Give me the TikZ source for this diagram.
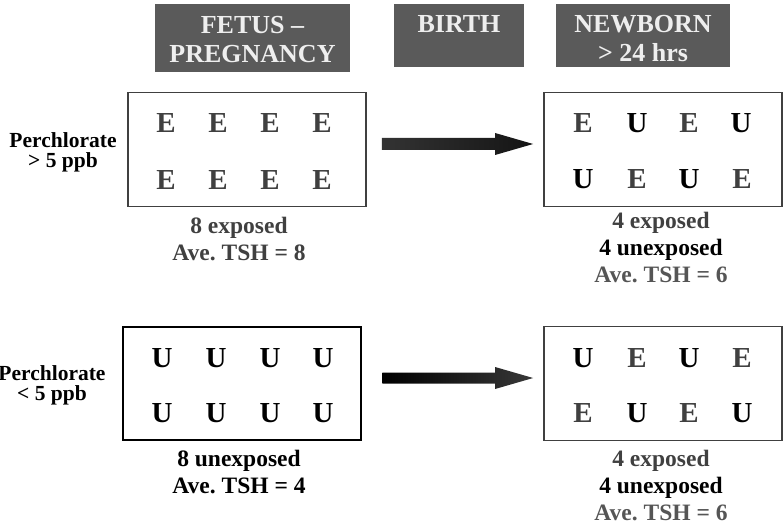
\documentclass[tikz,border=0pt]{standalone}
\usepackage{fontspec}
\setmainfont{Liberation Serif}
\usetikzlibrary{calc}
\frenchspacing
\definecolor{hdrgray}{HTML}{5A5A5A}
\definecolor{hdrtxt}{HTML}{EEEEEE}
\definecolor{egray}{HTML}{404040}
\definecolor{lgray}{HTML}{555555}
\begin{document}
\begin{tikzpicture}[x=1pt,y=-1pt,
  hdrbox/.style={fill=hdrgray, draw=none, inner sep=0pt},
  hdrtext/.style={text=hdrtxt, font=\fontsize{26}{30}\selectfont\bfseries, align=center, anchor=base, inner sep=0pt},
  grpbox/.style={draw=egray, line width=1.8pt, minimum width=238, minimum height=114, inner sep=0pt},
  grpboxb/.style={draw=black, line width=2.6pt, minimum width=238, minimum height=113, inner sep=0pt},
  letterE/.style={text=egray, font=\fontsize{29}{29}\selectfont\bfseries, anchor=base, inner sep=0pt},
  letterU/.style={text=black, font=\fontsize{29}{29}\selectfont\bfseries, anchor=base, inner sep=0pt},
  lbl/.style={font=\fontsize{23.5}{27}\selectfont\bfseries\frenchspacing, align=center, anchor=base, inner sep=0pt},
  conc/.style={font=\fontsize{21.5}{20}\selectfont\bfseries, align=center, anchor=base, inner sep=0pt}
]
\useasboundingbox (0,0) rectangle (783,529);

% header boxes
\node[hdrbox, minimum width=195, minimum height=68] (fetusbox) at (252.5,38) {};
\node[hdrbox, minimum width=130, minimum height=63] (birthbox) at (459,35.5) {};
\node[hdrbox, minimum width=174, minimum height=63] (newbornbox) at (643,35.5) {};
% anchor=base of a multi-line node is the baseline of its last line
\node[hdrtext] (fetustxt) at (252.5,63) {FETUS –\\[-0.5pt]PREGNANCY};
\node[hdrtext] (birthtxt) at (459,33) {BIRTH};
\node[hdrtext] (newborntxt) at (643,62) {NEWBORN\\[-1pt]> 24 hrs};

% group boxes
\node[grpbox] (b1) at (247,149.5) {};
\node[grpbox] (b2) at (663,149.5) {};
\node[grpboxb] (b3) at (242,383.5) {};
\node[grpbox] (b4) at (663,383.5) {};

% letters
\foreach \x in {166,218,270,322} {
  \node[letterE] at (\x,133) {E};
  \node[letterE] at (\x,190) {E};
}
\foreach \x in {162,216,270,323} {
  \node[letterU] at (\x,367) {U};
  \node[letterU] at (\x,422) {U};
}
\node[letterE] at (583,133) {E};
\node[letterU] at (637,133) {U};
\node[letterE] at (689,133) {E};
\node[letterU] at (741,133) {U};
\node[letterU] at (583,189) {U};
\node[letterE] at (637,189) {E};
\node[letterU] at (689,189) {U};
\node[letterE] at (742,189) {E};

\node[letterU] at (583,367) {U};
\node[letterE] at (637,367) {E};
\node[letterU] at (689,367) {U};
\node[letterE] at (742,367) {E};
\node[letterE] at (583,422) {E};
\node[letterU] at (637,422) {U};
\node[letterE] at (689,422) {E};
\node[letterU] at (742,422) {U};

% concentration labels
\node[conc] (c1) at (63,168) {Perchlorate\\> 5 ppb};
\node[conc] (c2) at (52,400) {Perchlorate\\< 5 ppb};

% group labels
\node[lbl, text=egray] (l1) at (239,260) {8 exposed\\Ave. TSH = 8};
\node[lbl] (l3) at (239,493) {8 unexposed\\Ave. TSH = 4};
\node[lbl] (l2) at (661,282) {\textcolor{egray}{4 exposed}\\4 unexposed\\\textcolor{lgray}{Ave. TSH = 6}};
\node[lbl] (l4) at (661,520) {\textcolor{egray}{4 exposed}\\4 unexposed\\\textcolor{lgray}{Ave. TSH = 6}};

% arrows
\coordinate (a1s) at ($(b1.east)+(15,-5.5)$);
\coordinate (a1e) at ($(b2.west)+(-10,-5.5)$);
\coordinate (a2s) at ($(b3.east)+(20,-5.5)$);
\coordinate (a2e) at ($(b4.west)+(-10,-5.5)$);
\shade[left color=black!80, right color=black!92]
  ($(a1s)+(0,-6)$) -- ($(a1e)+(-38,-6)$) -- ($(a1e)+(-38,-11)$) -- (a1e)
  -- ($(a1e)+(-38,11)$) -- ($(a1e)+(-38,6)$) -- ($(a1s)+(0,6)$) -- cycle;
\shade[left color=black, right color=black!78]
  ($(a2s)+(0,-5.5)$) -- ($(a2e)+(-38,-5.5)$) -- ($(a2e)+(-38,-11)$) -- (a2e)
  -- ($(a2e)+(-38,11)$) -- ($(a2e)+(-38,5.5)$) -- ($(a2s)+(0,5.5)$) -- cycle;
\end{tikzpicture}
\end{document}
